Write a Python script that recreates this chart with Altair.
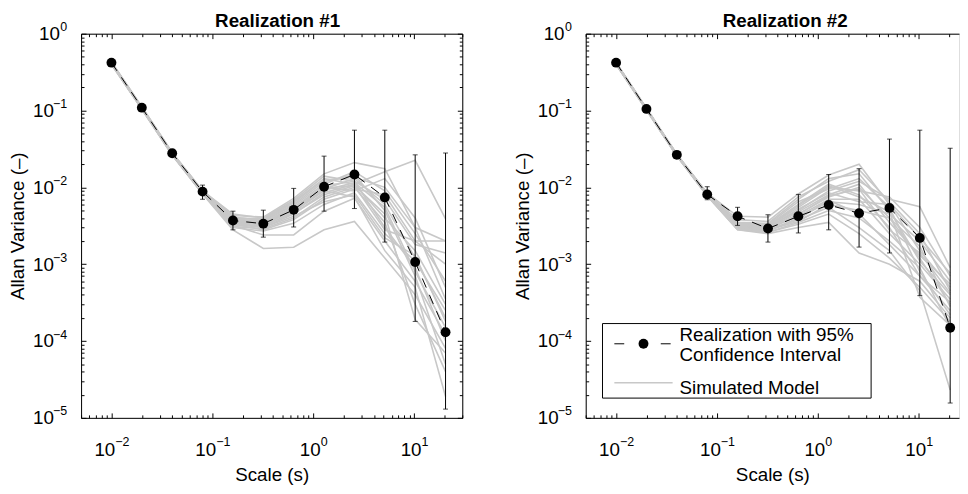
import math
import altair as alt
import pandas as pd

# ---------------- data ----------------
TAU = [0.01, 0.02, 0.04, 0.08, 0.16, 0.32, 0.64, 1.28, 2.56, 5.12, 10.24, 20.48]

REAL1 = [0.42, 0.109, 0.0278, 0.0088, 0.0037, 0.00337, 0.0051, 0.0102, 0.0147, 0.0074, 0.00107, 0.00013]
REAL1_LO = [0.405, 0.105, 0.0265, 0.0070, 0.0028, 0.00225, 0.00305, 0.0049, 0.0053, 0.00194, 0.00018, 0.000013]
REAL1_HI = [0.435, 0.113, 0.0290, 0.0107, 0.0049, 0.00505, 0.0097, 0.0255, 0.0555, 0.0555, 0.0265, 0.0280]

REAL2 = [0.42, 0.105, 0.0265, 0.0081, 0.0042, 0.00291, 0.0042, 0.0059, 0.0046, 0.0054, 0.0022, 0.000149]
REAL2_LO = [0.405, 0.101, 0.0252, 0.0069, 0.0032, 0.00194, 0.00255, 0.0028, 0.00167, 0.0014, 0.00039, 0.0000156]
REAL2_HI = [0.435, 0.109, 0.0278, 0.0102, 0.0055, 0.0044, 0.0081, 0.0147, 0.0175, 0.0425, 0.0555, 0.0323]

SIM1 = [
    [0.41, 0.107, 0.0270, 0.0086, 0.0036, 0.0033, 0.0050, 0.0095, 0.0130, 0.0060, 0.0012, 0.00020],
    [0.42, 0.110, 0.0280, 0.0089, 0.0040, 0.0039, 0.0065, 0.0130, 0.0110, 0.0160, 0.0225, 0.0039],
    [0.40, 0.104, 0.0262, 0.0082, 0.0028, 0.0016, 0.00166, 0.0028, 0.0036, 0.0012, 0.0004, 0.00008],
    [0.41, 0.106, 0.0266, 0.0083, 0.0032, 0.0024, 0.0024, 0.0049, 0.0072, 0.0020, 0.0006, 0.00012],
    [0.43, 0.112, 0.0285, 0.0091, 0.0043, 0.0041, 0.0072, 0.0150, 0.0210, 0.0175, 0.0030, 0.0020],
    [0.41, 0.107, 0.0272, 0.0085, 0.0035, 0.0030, 0.0045, 0.0085, 0.0110, 0.0040, 0.0015, 0.00030],
    [0.42, 0.108, 0.0275, 0.0087, 0.0038, 0.0035, 0.0055, 0.0105, 0.0120, 0.0030, 0.0009, 0.00010],
    [0.40, 0.105, 0.0268, 0.0084, 0.0033, 0.0028, 0.0038, 0.0070, 0.0095, 0.0080, 0.0020, 0.0010],
    [0.42, 0.110, 0.0279, 0.0089, 0.0041, 0.0037, 0.0060, 0.0118, 0.0145, 0.0050, 0.0007, 0.00005],
    [0.41, 0.106, 0.0267, 0.0083, 0.0030, 0.0027, 0.0034, 0.0060, 0.0085, 0.0025, 0.0011, 0.00025],
    [0.42, 0.108, 0.0274, 0.0087, 0.0037, 0.0034, 0.0052, 0.0100, 0.0090, 0.0130, 0.0040, 0.00050],
    [0.41, 0.107, 0.0271, 0.0085, 0.0034, 0.0031, 0.0048, 0.0090, 0.0075, 0.0015, 0.0005, 0.000019],
    [0.42, 0.109, 0.0277, 0.0088, 0.0039, 0.0036, 0.0058, 0.0110, 0.0160, 0.0090, 0.0025, 0.00060],
    [0.40, 0.105, 0.0266, 0.0083, 0.0031, 0.0029, 0.0040, 0.0075, 0.0100, 0.0035, 0.0003, 0.00004],
    [0.43, 0.111, 0.0283, 0.0090, 0.0045, 0.0040, 0.0068, 0.0140, 0.0120, 0.0070, 0.0018, 0.0014],
    [0.41, 0.107, 0.0271, 0.0086, 0.0036, 0.0032, 0.0046, 0.0080, 0.0105, 0.0045, 0.00019, 0.00007],
    [0.41, 0.106, 0.0268, 0.0084, 0.0033, 0.0030, 0.0042, 0.0065, 0.0080, 0.0022, 0.0013, 0.00018],
    [0.42, 0.109, 0.0278, 0.0088, 0.0040, 0.0038, 0.0063, 0.0125, 0.0135, 0.0100, 0.0030, 0.00035],
    [0.41, 0.108, 0.0273, 0.0086, 0.0035, 0.0033, 0.0050, 0.0092, 0.0115, 0.0055, 0.0008, 0.00015],
    [0.42, 0.108, 0.0275, 0.0087, 0.0038, 0.0034, 0.0054, 0.0098, 0.0105, 0.0028, 0.0020, 0.0020],
]

SIM2 = [
    [0.41, 0.104, 0.0262, 0.0080, 0.0030, 0.0028, 0.0045, 0.0075, 0.0100, 0.0040, 0.0012, 0.00030],
    [0.42, 0.107, 0.0270, 0.0084, 0.0042, 0.0041, 0.0082, 0.0145, 0.0200, 0.0060, 0.0015, 0.00050],
    [0.40, 0.101, 0.0255, 0.0077, 0.0028, 0.0025, 0.0030, 0.0035, 0.0014, 0.0010, 0.0006, 0.00020],
    [0.41, 0.105, 0.0264, 0.0081, 0.0031, 0.0030, 0.0050, 0.0090, 0.0120, 0.0070, 0.0056, 0.00090],
    [0.41, 0.103, 0.0260, 0.0079, 0.0029, 0.0026, 0.0035, 0.0050, 0.0040, 0.0020, 0.0009, 0.00015],
    [0.42, 0.105, 0.0266, 0.0082, 0.0033, 0.0032, 0.0060, 0.0110, 0.0080, 0.0030, 0.0007, 0.00025],
    [0.40, 0.103, 0.0259, 0.0079, 0.0030, 0.0027, 0.0040, 0.0065, 0.0060, 0.0045, 0.0020, 0.00060],
    [0.42, 0.106, 0.0268, 0.0083, 0.0035, 0.0034, 0.0070, 0.0130, 0.0150, 0.0050, 0.0011, 0.00040],
    [0.41, 0.103, 0.0258, 0.0078, 0.0029, 0.0028, 0.0038, 0.0055, 0.0030, 0.0015, 0.00045, 0.000023],
    [0.41, 0.105, 0.0265, 0.0081, 0.0032, 0.0031, 0.0055, 0.0100, 0.0090, 0.0075, 0.0030, 0.00070],
    [0.41, 0.104, 0.0262, 0.0080, 0.0030, 0.0029, 0.0042, 0.0070, 0.0070, 0.0025, 0.0010, 0.00035],
    [0.42, 0.107, 0.0270, 0.0083, 0.0038, 0.0036, 0.0075, 0.0120, 0.0170, 0.0065, 0.0025, 0.00045],
    [0.40, 0.102, 0.0257, 0.0078, 0.0028, 0.0026, 0.0033, 0.0045, 0.0025, 0.0012, 0.0005, 0.00018],
    [0.41, 0.104, 0.0263, 0.0080, 0.0031, 0.0029, 0.0048, 0.0080, 0.0110, 0.0035, 0.0013, 0.00055],
    [0.41, 0.104, 0.0261, 0.0080, 0.0030, 0.0028, 0.0036, 0.0060, 0.0050, 0.0040, 0.0017, 0.00028],
    [0.42, 0.106, 0.0267, 0.0082, 0.0034, 0.0033, 0.0065, 0.0095, 0.0130, 0.0055, 0.0008, 0.00022],
    [0.40, 0.103, 0.0259, 0.0079, 0.0029, 0.0027, 0.0039, 0.0068, 0.0045, 0.0018, 0.0007, 0.00032],
    [0.41, 0.105, 0.0264, 0.0081, 0.0032, 0.0030, 0.0052, 0.0085, 0.0065, 0.0060, 0.0022, 0.00076],
    [0.41, 0.104, 0.0262, 0.0080, 0.0030, 0.0029, 0.0044, 0.0078, 0.0095, 0.0028, 0.0014, 0.00042],
    [0.42, 0.105, 0.0266, 0.0082, 0.0033, 0.0031, 0.0058, 0.0105, 0.0075, 0.0048, 0.00037, 0.00016],
]

TITLES = ["Realization #1", "Realization #2"]
X_TITLE = "Scale (s)"
Y_TITLE = "Allan Variance (\u2013)"
LEGEND_LABELS = ["Realization with 95%", "Confidence Interval", "Simulated Model"]
X_DECADES = [0.01, 0.1, 1, 10]
Y_DECADES = [1e-5, 1e-4, 1e-3, 1e-2, 1e-1, 1]

# ---------------- style ----------------
FONT = "Liberation Sans, Arial, Helvetica, sans-serif"
FS = 19
FS_EXP = 12.6
GRAY = "#c8c8c8"
H = 389
W_LEFT = 386
W_RIGHT = 378
XMIN = 0.005
XMAX_LEFT = 30.0
PX_DEC = W_LEFT / (math.log10(XMAX_LEFT) - math.log10(XMIN))
XMAX_RIGHT = 10 ** (math.log10(XMIN) + W_RIGHT / PX_DEC)
DOT = 100

MAJOR = "abs(log(datum.value)/LN10 - round(log(datum.value)/LN10)) < 0.001"
EXP = ("(round(log(datum.value)/LN10) < 0 ? '\u2212' + abs(round(log(datum.value)/LN10)) "
       ": '' + round(log(datum.value)/LN10))")


def tick_values(lo, hi):
    out = []
    for e in range(-6, 3):
        for m in range(1, 10):
            v = float(f"{m}e{e}")
            if lo * (1 - 1e-9) <= v <= hi * (1 + 1e-9):
                out.append(v)
    return out


def tick_axis(orient, offset, values, domain):
    return alt.Axis(
        orient=orient, offset=offset, values=values, labels=False, title=None,
        grid=False, ticks=True, tickColor="black", tickWidth=1,
        tickSize={"condition": {"test": MAJOR, "value": 5}, "value": 3},
        domain=domain, domainColor="black", domainWidth=1,
    )


def panel(idx, real, lo, hi, sims, width, xmax, right_ticks, legend, title_x):
    xs = alt.Scale(type="log", domain=[XMIN, xmax], nice=False)
    ys = alt.Scale(type="log", domain=[1e-5, 1], nice=False)
    xt = tick_values(XMIN, xmax)
    yt = tick_values(1e-5, 1)

    sim_rows = []
    for c, curve in enumerate(sims):
        for t, v in zip(TAU, curve):
            sim_rows.append({"tau": t, "val": v, "curve": c})
    sim_df = pd.DataFrame(sim_rows)
    real_df = pd.DataFrame({"tau": TAU, "val": real, "lo": lo, "hi": hi})

    ax_x_base = alt.Axis(
        orient="bottom", values=X_DECADES, labelExpr="'10'", labelAlign="right",
        labelBaseline="top", labelFontSize=FS, labelFont=FONT, labelColor="black",
        labelPadding=23, labelFlush=False, labelOverlap=False,
        labelOffset={"condition": {"test": "datum.value < 0.5", "value": 3.4}, "value": 7},
        ticks=False, grid=False, domain=True, domainColor="black", domainWidth=1,
        title=X_TITLE, titleFont=FONT, titleFontSize=FS, titleFontWeight="normal",
        titleColor="black", titlePadding=6,
    )
    ax_x_exp = alt.Axis(
        orient="bottom", values=X_DECADES, labelExpr=EXP, labelAlign="left",
        labelBaseline="top", labelFontSize=FS_EXP, labelFont=FONT, labelColor="black",
        labelPadding=18, labelFlush=False, labelOverlap=False,
        labelOffset={"condition": {"test": "datum.value < 0.5", "value": 3.4}, "value": 7},
        ticks=False, grid=False, domain=False, title=None,
    )
    ax_y_base = alt.Axis(
        orient="left", values=Y_DECADES, labelExpr="'10'", labelAlign="right",
        labelBaseline="middle", labelFontSize=FS, labelFont=FONT, labelColor="black",
        labelPadding={"condition": {"test": "datum.value > 0.5", "value": 22}, "value": 28},
        labelFlush=False, labelOverlap=False,
        ticks=False, grid=False, domain=True, domainColor="black", domainWidth=1,
        title=Y_TITLE, titleFont=FONT, titleFontSize=FS, titleFontWeight="normal",
        titleColor="black", titlePadding=5,
    )
    ax_y_exp = alt.Axis(
        orient="left", values=Y_DECADES, labelExpr=EXP, labelAlign="right",
        labelBaseline="middle", labelFontSize=FS_EXP, labelFont=FONT, labelColor="black",
        labelPadding=14.5, labelOffset=-7, labelFlush=False, labelOverlap=False,
        ticks=False, grid=False, domain=False, title=None,
    )

    gray = alt.Chart(sim_df).mark_line(color=GRAY, strokeWidth=1.6).encode(
        x=alt.X("tau:Q", scale=xs, axis=ax_x_base),
        y=alt.Y("val:Q", scale=ys, axis=ax_y_base),
        detail="curve:N",
    )
    errb = alt.Chart(real_df).mark_errorbar(ticks=True, size=5, thickness=1, color="black").encode(
        x=alt.X("tau:Q", scale=xs, axis=tick_axis("bottom", -H, xt, True)),
        y=alt.Y("lo:Q", scale=ys,
                axis=tick_axis("left", -width, yt, True) if right_ticks else None),
        y2="hi:Q",
    )
    line = alt.Chart(real_df).mark_line(color="black", strokeWidth=1, strokeDash=[10, 8]).encode(
        x=alt.X("tau:Q", scale=xs, axis=ax_x_exp),
        y=alt.Y("val:Q", scale=ys, axis=ax_y_exp),
    )
    pts = alt.Chart(real_df).mark_circle(size=DOT, color="black", opacity=1).encode(
        x=alt.X("tau:Q", scale=xs, axis=tick_axis("top", -H, xt, False)),
        y=alt.Y("val:Q", scale=ys, axis=tick_axis("right", -width, yt, False)),
    )
    one = alt.Data(values=[{"k": 0}])
    title = alt.Chart(one).mark_text(align="center", baseline="alphabetic", font=FONT,
                                     fontSize=FS, fontWeight="bold", color="black").encode(
        x=alt.value(title_x), y=alt.value(-7), text=alt.value(TITLES[idx]))
    layers = [gray, errb, line, pts, title]

    if legend:
        box = alt.Chart(one).mark_rect(fill="white", stroke="black", strokeWidth=1).encode(
            x=alt.value(17), x2=alt.value(289), y=alt.value(293.5), y2=alt.value(369))
        dash = alt.Chart(one).mark_rule(color="black", strokeWidth=1, strokeDash=[10, 37]).encode(
            x=alt.value(29), x2=alt.value(88), y=alt.value(314))
        dot = alt.Chart(one).mark_circle(size=DOT, color="black", opacity=1).encode(
            x=alt.value(58.5), y=alt.value(314))
        gline = alt.Chart(one).mark_rule(color=GRAY, strokeWidth=1.6).encode(
            x=alt.value(29), x2=alt.value(88), y=alt.value(353.5))
        texts = []
        for lab, yy in zip(LEGEND_LABELS, [311.5, 331.5, 365]):
            texts.append(
                alt.Chart(one).mark_text(align="left", baseline="alphabetic", font=FONT,
                                         fontSize=FS, color="black").encode(
                    x=alt.value(95), y=alt.value(yy), text=alt.value(lab)))
        layers += [box, dash, dot, gline] + texts

    return alt.layer(*layers).resolve_axis(x="independent", y="independent").properties(
        width=width, height=H,
    )


left = panel(0, REAL1, REAL1_LO, REAL1_HI, SIM1, W_LEFT, XMAX_LEFT, True, False, W_LEFT / 2 + 6)
right = panel(1, REAL2, REAL2_LO, REAL2_HI, SIM2, W_RIGHT, XMAX_RIGHT, False, True, 202)

chart = alt.hconcat(left, right, spacing=50).properties(
    padding={"left": 0, "top": 0, "right": 0, "bottom": 0}
).configure_view(stroke=None).configure(background="white")

chart.save("out.html", embed_options={"renderer": "svg", "actions": False})
